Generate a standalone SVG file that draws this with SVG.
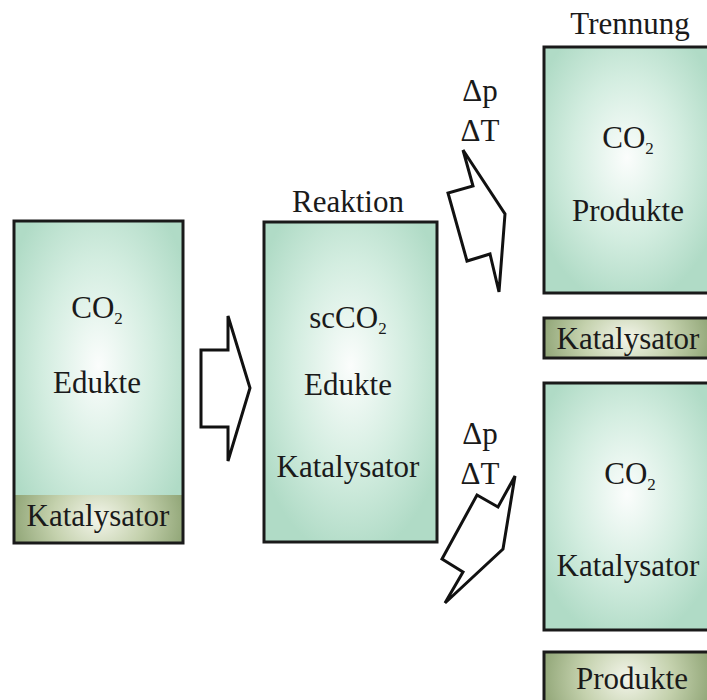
<svg xmlns="http://www.w3.org/2000/svg" width="707" height="700" viewBox="0 0 707 700">
<defs>
<radialGradient id="gBox" cx="0.5" cy="0.45" r="0.6">
<stop offset="0" stop-color="#fbfdfc"/>
<stop offset="0.55" stop-color="#d3ede0"/>
<stop offset="1" stop-color="#b0dbc6"/>
</radialGradient>
<radialGradient id="gCat" cx="0.5" cy="0.5" r="0.55" gradientTransform="translate(0.5,0.5) scale(1,3) translate(-0.5,-0.5)">
<stop offset="0" stop-color="#f3f5ea"/>
<stop offset="0.5" stop-color="#c4d1ad"/>
<stop offset="1" stop-color="#8aa070"/>
</radialGradient>
<style>
svg text, svg tspan, .t{font-family:'Liberation Serif',serif !important}
.t{font-size:31px;fill:#1a1a1a;text-anchor:middle}
.sub{font-size:17px}
.ol{stroke:#1a1a1a;stroke-width:3}
.arr{fill:#ffffff;stroke:#111111;stroke-width:3;stroke-linejoin:miter}
</style>
</defs>

<g id="box-edukte">
<rect x="14" y="221" width="169" height="322" fill="url(#gBox)"/>
<rect x="14" y="495" width="169" height="48" fill="url(#gCat)"/>
<rect x="14" y="221" width="169" height="322" class="ol" fill="none"/>
<text class="t" style="font-family:'Liberation Serif',serif" x="97" y="318">CO<tspan class="sub" dy="6">2</tspan></text>
<text class="t" style="font-family:'Liberation Serif',serif" x="97" y="393">Edukte</text>
<text class="t" style="font-family:'Liberation Serif',serif" x="98" y="526">Katalysator</text>
</g>

<g id="box-reaktion">
<text class="t" style="font-family:'Liberation Serif',serif" x="348" y="212">Reaktion</text>
<rect x="264" y="222" width="173" height="320" class="ol" fill="url(#gBox)"/>
<text class="t" style="font-family:'Liberation Serif',serif" x="348" y="328">scCO<tspan class="sub" dy="6">2</tspan></text>
<text class="t" style="font-family:'Liberation Serif',serif" x="348" y="395">Edukte</text>
<text class="t" style="font-family:'Liberation Serif',serif" x="348" y="477">Katalysator</text>
</g>

<g id="box-trennung">
<text class="t" style="font-family:'Liberation Serif',serif" x="630" y="34">Trennung</text>
<rect x="544" y="47" width="166" height="246" class="ol" fill="url(#gBox)"/>
<text class="t" style="font-family:'Liberation Serif',serif" x="628" y="148">CO<tspan class="sub" dy="6">2</tspan></text>
<text class="t" style="font-family:'Liberation Serif',serif" x="628" y="221">Produkte</text>
</g>

<g id="band-katalysator">
<rect x="544" y="318" width="166" height="40" class="ol" fill="url(#gCat)"/>
<text class="t" style="font-family:'Liberation Serif',serif" x="628" y="349">Katalysator</text>
</g>

<g id="box-co2-kat">
<rect x="544" y="383" width="166" height="247" class="ol" fill="url(#gBox)"/>
<text class="t" style="font-family:'Liberation Serif',serif" x="630" y="484">CO<tspan class="sub" dy="6">2</tspan></text>
<text class="t" style="font-family:'Liberation Serif',serif" x="628" y="576">Katalysator</text>
</g>

<g id="band-produkte">
<rect x="544" y="652" width="166" height="52" class="ol" fill="url(#gCat)"/>
<text class="t" style="font-family:'Liberation Serif',serif" x="632" y="689">Produkte</text>
</g>

<g id="connectors">
<polygon class="arr" points="201,350 228,350 228,316 250,388 228,461 228,427 201,427"/>
<text class="t" style="font-family:'Liberation Serif',serif" x="480" y="101">Δp</text>
<text class="t" style="font-family:'Liberation Serif',serif" x="480" y="141">ΔT</text>
<polygon class="arr" points="463,150 505,214 499,292 490,254 467,261 448,193 473,186"/>
<text class="t" style="font-family:'Liberation Serif',serif" x="480" y="444">Δp</text>
<text class="t" style="font-family:'Liberation Serif',serif" x="480" y="484">ΔT</text>
<polygon class="arr" points="515,476 503,549 445,603 463,572 442,559 477,495 498,507"/>
</g>
</svg>
